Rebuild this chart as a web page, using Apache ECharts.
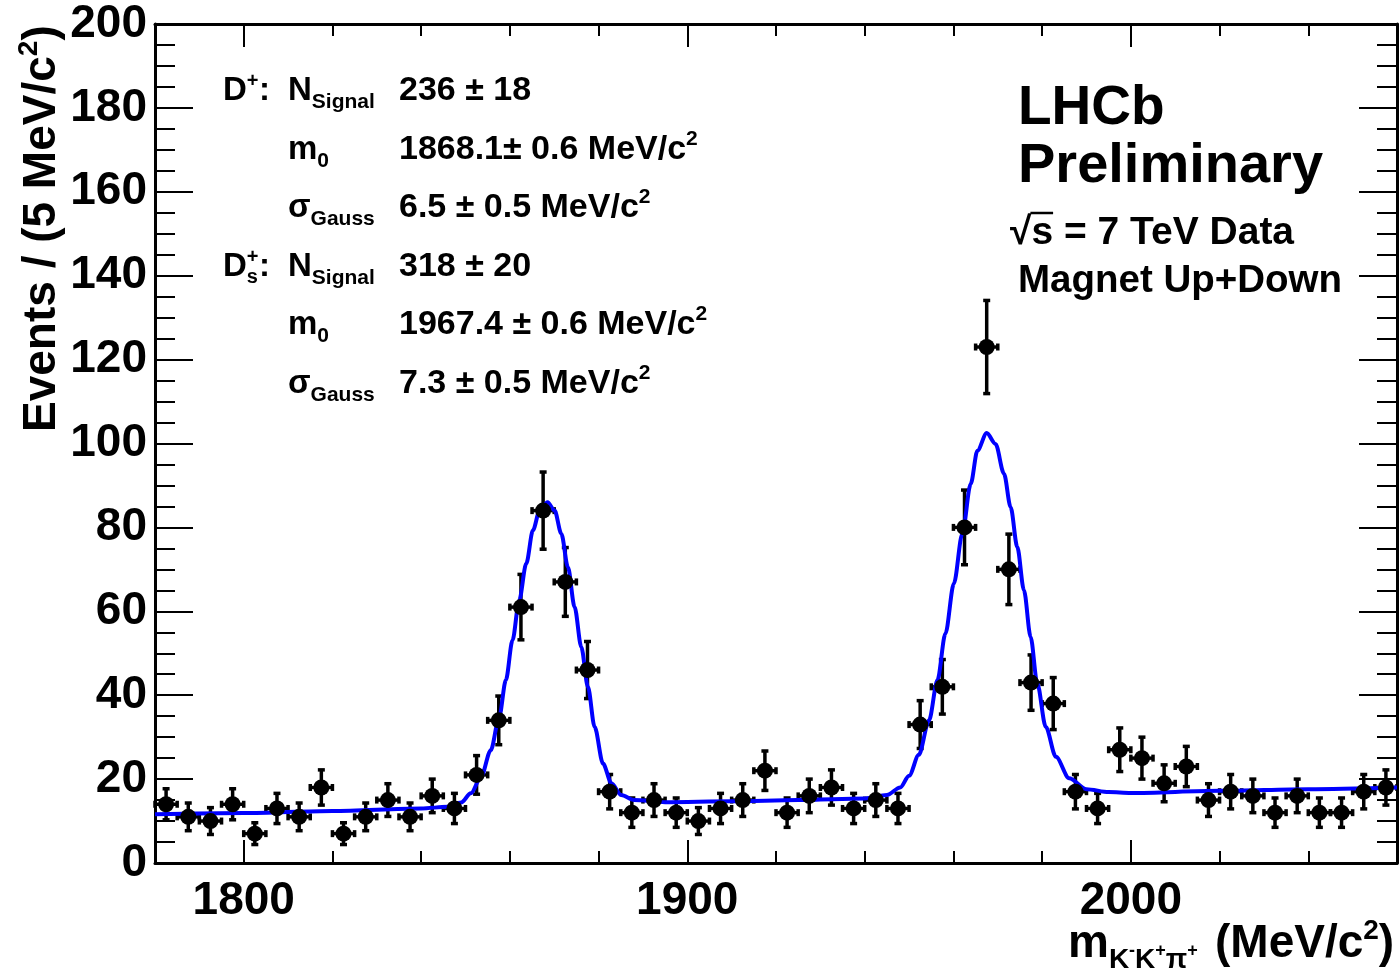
<!DOCTYPE html>
<html><head><meta charset="utf-8">
<script src="https://cdn.jsdelivr.net/npm/echarts@6/dist/echarts.min.js"></script>
<style>html,body{margin:0;padding:0;background:#fff}#c{width:1400px;height:970px}</style>
</head><body><div id="c"></div>
<script>
// ---------------- data ----------------
const binCenters = [1782.5,1787.5,1792.5,1797.5,1802.5,1807.5,1812.5,1817.5,1822.5,1827.5,
  1832.5,1837.5,1842.5,1847.5,1852.5,1857.5,1862.5,1867.5,1872.5,1877.5,
  1882.5,1887.5,1892.5,1897.5,1902.5,1907.5,1912.5,1917.5,1922.5,1927.5,
  1932.5,1937.5,1942.5,1947.5,1952.5,1957.5,1962.5,1967.5,1972.5,1977.5,
  1982.5,1987.5,1992.5,1997.5,2002.5,2007.5,2012.5,2017.5,2022.5,2027.5,
  2032.5,2037.5,2042.5,2047.5,2052.5,2057.5];
const events = [14,11,10,14,7,13,11,18,7,11,
  15,11,16,13,21,34,61,84,67,46,
  17,12,15,12,10,13,15,22,12,16,
  18,13,15,13,33,42,80,123,70,43,
  38,17,13,27,25,19,23,15,17,16,
  12,16,12,12,17,18];
const eventErrors = [3.7,3.3,3.2,3.7,2.6,3.6,3.3,4.2,2.6,3.3,
  3.9,3.3,4.0,3.6,4.6,5.8,7.8,9.2,8.2,6.8,
  4.1,3.5,3.9,3.5,3.2,3.6,3.9,4.7,3.5,4.0,
  4.2,3.6,3.9,3.6,5.7,6.5,8.9,11.1,8.4,6.6,
  6.2,4.1,3.6,5.2,5.0,4.4,4.8,3.9,4.1,4.0,
  3.5,4.0,3.5,3.5,4.1,4.2];
const fitMass = [1780,1800,1820,1840,1846,1849,1851.2,1853.5,1855.7,1857.6,1859.1,1860.6,1862.1,1863.7,1865.2,1866.7,1868.5,1870.1,1871.6,1873.1,1874.6,1876.1,1877.6,1879.1,1881.0,1882.9,1885.1,1888,1895,1910,1925,1940,1945,1948,1950,1952.2,1954.5,1956.4,1958.2,1960.1,1962.0,1963.9,1965.4,1967.5,1969.5,1971.4,1972.9,1974.4,1975.9,1977.4,1978.9,1980.8,1983.1,1986.1,1990,1995,2000,2020,2040,2060];
const fitValues = [11.6,11.9,12.4,13.0,13.4,14.4,16.6,20.5,26.9,34.8,43.6,53.1,62.6,71.4,79.3,84.0,86.0,84.0,78.5,70.5,61.0,51.5,42.0,32.5,23.7,19.0,16.2,15.0,14.5,14.7,15.0,15.4,16.2,18.0,20.8,25.8,34.0,43.6,54.7,66.6,78.5,90.4,98.3,102.5,99.9,92.8,84.8,75.3,65.0,53.9,42.8,32.5,25.3,20.2,17.6,16.9,16.7,17.2,17.6,18.0];
const xMajorTicks = [1800,1900,2000];
const xRange = [1780, 2060];
const yRange = [0, 200];
const binHalfWidth = 2.5;
const fitRows = [
  {lab:'D', labSup:'+', labSub:'', par:'N', parSub:'Signal', val:'236 \u00b1 18', unit:false},
  {lab:'', labSup:'', labSub:'', par:'m', parSub:'0', val:'1868.1\u00b1 0.6 MeV/c', unit:true},
  {lab:'', labSup:'', labSub:'', par:'\u03c3', parSub:'Gauss', val:'6.5 \u00b1 0.5 MeV/c', unit:true},
  {lab:'D', labSup:'+', labSub:'s', par:'N', parSub:'Signal', val:'318 \u00b1 20', unit:false},
  {lab:'', labSup:'', labSub:'', par:'m', parSub:'0', val:'1967.4 \u00b1 0.6 MeV/c', unit:true},
  {lab:'', labSup:'', labSub:'', par:'\u03c3', parSub:'Gauss', val:'7.3 \u00b1 0.5 MeV/c', unit:true}
];

// ---------------- text helpers ----------------
const FF = '"Liberation Sans", Arial, Helvetica, sans-serif';
const mc = document.createElement('canvas').getContext('2d');
function fnt(sz){ return 'bold ' + sz + 'px ' + FF; }
function tw(s, sz){ mc.font = fnt(sz); return mc.measureText(s).width; }
function midOff(sz){
  mc.font = fnt(sz); mc.textBaseline = 'alphabetic';
  const a = mc.measureText('H').actualBoundingBoxAscent;
  mc.textBaseline = 'middle';
  const b = mc.measureText('H').actualBoundingBoxAscent;
  mc.textBaseline = 'alphabetic';
  return a - b;
}
function txt(x, base, s, sz){
  return {type:'text', x:x, y: base - midOff(sz), silent:true,
    style:{text:s, fontSize:sz, fontWeight:'bold', fontFamily:FF, fill:'#000', align:'left', verticalAlign:'middle'}};
}
// parts: [text, size, dy, {x, noAdvance}]
function run(x, base, parts){
  const els = []; let cx = x;
  parts.forEach(p => {
    const t = p[0], sz = p[1], dy = p[2] || 0, o = p[3] || {};
    const px = (o.x !== undefined) ? o.x : cx;
    els.push(txt(px, base + dy, t, sz));
    if (!o.noAdvance) cx = px + tw(t, sz);
  });
  return els;
}

// ---------------- annotations ----------------
const graphics = [];
const rowBase = [100, 159, 217, 276, 334, 393];
fitRows.forEach((r, i) => {
  const b = rowBase[i];
  if (r.lab) {
    const parts = [[r.lab, 33]];
    if (r.labSub) { parts.push([r.labSup, 20, -13, {noAdvance:true}]); parts.push([r.labSub, 20, 7]); }
    else parts.push([r.labSup, 20, -13]);
    parts.push([':', 33, 0, {x:259}]);
    graphics.push(...run(223, b, parts));
  }
  graphics.push(...run(288, b, [[r.par, 33], [r.parSub, 21, 8]]));
  const vp = [[r.val, 34]];
  if (r.unit) vp.push(['2', 21, -14]);
  graphics.push(...run(399, b, vp));
});
// LHCb block
graphics.push(txt(1018, 124, 'LHCb', 55));
graphics.push(txt(1018, 182, 'Preliminary', 56));
(function(){
  const x0 = 1010, b = 244, sz = 39;
  graphics.push(...run(x0, b, [['\u221a', sz], ['s = 7 TeV Data', sz]]));
  const xs = x0 + tw('\u221a', sz) - 1;
  graphics.push({type:'line', silent:true, shape:{x1:xs, y1:b-31, x2:xs + tw('s', sz) + 1, y2:b-31}, style:{stroke:'#000', lineWidth:2.5}});
})();
graphics.push(txt(1018, 292, 'Magnet Up+Down', 38.5));
// x-axis title
graphics.push(...run(1068, 957, [['m', 46], ['K', 28, 11], ['-', 18, -1], ['K', 28, 11], ['+', 18, -1], ['\u03c0', 28, 11], ['+', 18, -1]]));
graphics.push(...run(1215, 957, [['(MeV/c', 46], ['2', 28, -18], [')', 46]]));
// y-axis title (rotated)
graphics.push({type:'group', x:0, y:432, rotation:Math.PI/2, silent:true,
  children: run(0, 55, [['Events / (5 MeV/c', 46], ['2', 28, -18], [')', 46]])});

// ---------------- chart ----------------
const chart = echarts.init(document.getElementById('c'), null, {renderer:'canvas'});
const lineBlack = {lineStyle:{color:'#000', width:3}};
const tickStyle = {color:'#000', width:2};
const pointData = binCenters.map((m, i) => [m, events[i], eventErrors[i]]);
const fitData = fitMass.map((m, i) => [m, fitValues[i]]);

const baseX = {type:'value', min:xRange[0], max:xRange[1], gridIndex:0, splitLine:{show:false}};
const baseY = {type:'value', min:yRange[0], max:yRange[1], interval:20, gridIndex:0, splitLine:{show:false}};

chart.setOption({
  animation:false,
  backgroundColor:'#fff',
  grid:{left:155, right:3, top:24, bottom:107, containLabel:false},
  xAxis:[
    Object.assign({}, baseX, {position:'bottom', interval:20,
      axisLine:Object.assign({show:true, onZero:false}, lineBlack),
      axisTick:{show:true, inside:true, length:12, lineStyle:tickStyle},
      axisLabel:{show:true, margin:15, fontSize:46, fontWeight:'bold', fontFamily:FF, color:'#000',
        formatter: v => (xMajorTicks.indexOf(v) >= 0 ? String(v) : '')}}),
    Object.assign({}, baseX, {position:'bottom',
      axisLine:{show:false, onZero:false},
      axisTick:{show:true, inside:true, length:23, lineStyle:tickStyle, customValues:xMajorTicks},
      axisLabel:{show:false}}),
    Object.assign({}, baseX, {position:'top', interval:20,
      axisLine:Object.assign({show:true, onZero:false}, lineBlack),
      axisTick:{show:true, inside:true, length:12, lineStyle:tickStyle},
      axisLabel:{show:false}}),
    Object.assign({}, baseX, {position:'top',
      axisLine:{show:false, onZero:false},
      axisTick:{show:true, inside:true, length:23, lineStyle:tickStyle, customValues:xMajorTicks},
      axisLabel:{show:false}})
  ],
  yAxis:[
    Object.assign({}, baseY, {position:'left',
      axisLine:Object.assign({show:true, onZero:false}, lineBlack),
      axisTick:{show:true, inside:true, length:38, lineStyle:tickStyle},
      minorTick:{show:true, splitNumber:4, length:20, lineStyle:tickStyle},
      axisLabel:{show:true, margin:8, fontSize:46, fontWeight:'bold', fontFamily:FF, color:'#000'}}),
    Object.assign({}, baseY, {position:'right',
      axisLine:Object.assign({show:true, onZero:false}, lineBlack),
      axisTick:{show:true, inside:true, length:38, lineStyle:tickStyle},
      minorTick:{show:true, splitNumber:4, length:20, lineStyle:tickStyle},
      axisLabel:{show:false}})
  ],
  series:[
    {
      type:'custom', name:'errors', xAxisIndex:0, yAxisIndex:0, data:pointData, z:3,
      renderItem:function(params, api){
        const x = api.value(0), y = api.value(1), e = api.value(2);
        const hi = api.coord([x, y + e]), lo = api.coord([x, y - e]);
        const l = api.coord([x - binHalfWidth, y]), r = api.coord([x + binHalfWidth, y]);
        const st = {stroke:'#000', lineWidth:3.5};
        const cap = 3.5;
        return {type:'group', children:[
          {type:'line', shape:{x1:hi[0], y1:hi[1], x2:lo[0], y2:lo[1]}, style:st},
          {type:'line', shape:{x1:l[0], y1:l[1], x2:r[0], y2:r[1]}, style:st},
          {type:'line', shape:{x1:hi[0]-cap, y1:hi[1], x2:hi[0]+cap, y2:hi[1]}, style:st},
          {type:'line', shape:{x1:lo[0]-cap, y1:lo[1], x2:lo[0]+cap, y2:lo[1]}, style:st},
          {type:'line', shape:{x1:l[0], y1:l[1]-cap, x2:l[0], y2:l[1]+cap}, style:st},
          {type:'line', shape:{x1:r[0], y1:r[1]-cap, x2:r[0], y2:r[1]+cap}, style:st}
        ]};
      }
    },
    {
      type:'line', name:'fit', xAxisIndex:0, yAxisIndex:0, data:fitData, z:4,
      showSymbol:false, smooth:0.3, smoothMonotone:'x',
      lineStyle:{color:'#0000ff', width:4}
    },
    {
      type:'scatter', name:'data', xAxisIndex:0, yAxisIndex:0, z:5,
      data:pointData.map(d => [d[0], d[1]]),
      symbol:'circle', symbolSize:16, itemStyle:{color:'#000', opacity:1}
    }
  ],
  graphic: graphics
});
</script>
</body></html>
